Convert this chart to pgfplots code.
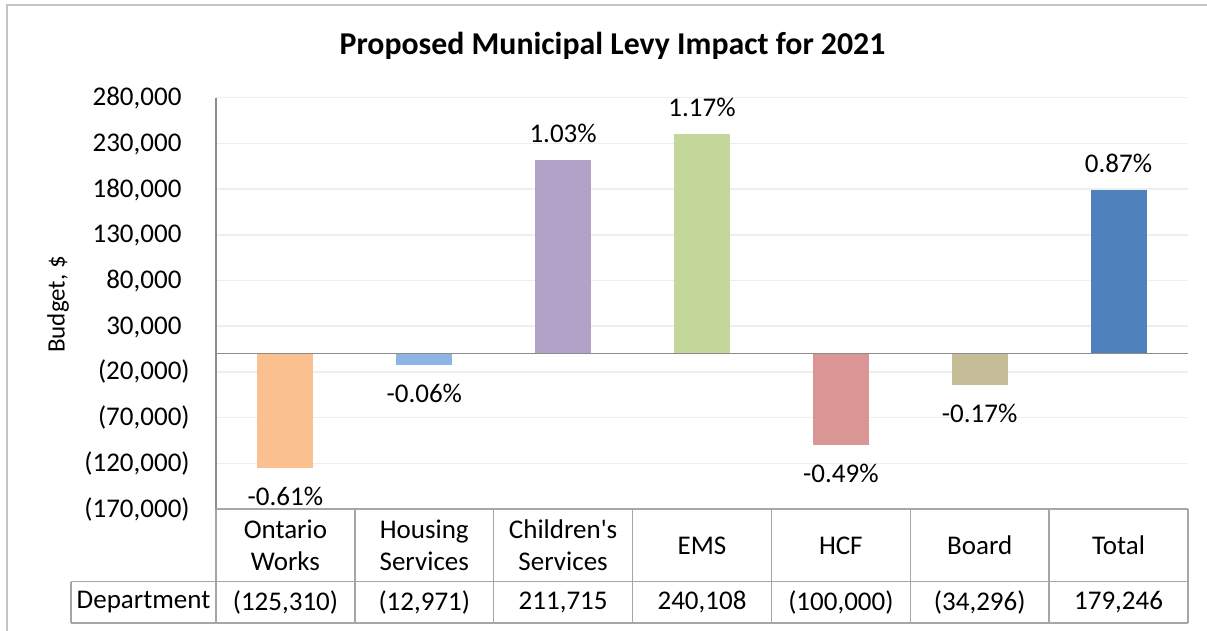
\documentclass[border=0pt]{standalone}
\usepackage{fontspec}
\setmainfont{Carlito}
\usepackage{pgfplots}
\pgfplotsset{compat=1.18}
\definecolor{cOW}{HTML}{FAC090}
\definecolor{cHS}{HTML}{8DB4E2}
\definecolor{cCS}{HTML}{B3A2C7}
\definecolor{cEMS}{HTML}{C4D79B}
\definecolor{cHCF}{HTML}{DA9694}
\definecolor{cBD}{HTML}{C4BD97}
\definecolor{cTot}{HTML}{4F81BD}
\definecolor{gridc}{HTML}{EEEEEE}
\definecolor{axc}{HTML}{8C8C8C}
\definecolor{tabc}{HTML}{A6A6A6}
\definecolor{brd}{HTML}{C4C4C4}
\newcommand{\lblfont}{\fontsize{13.5}{16}\selectfont}
\begin{document}
\begin{tikzpicture}
\begin{scope}[x=0.5pt,y=-0.5pt]
\useasboundingbox (0,0) rectangle (1207,631);
\draw[brd, line width=0.8pt] (7,5) rectangle (1240,660);
\node[font=\fontsize{15.9}{18}\selectfont\bfseries, anchor=base, inner sep=0pt] at (612.5,55) {Proposed Municipal Levy Impact for 2021};
\node[rotate=90, font=\fontsize{12.5}{15}\selectfont, inner sep=0pt] at (58,304.5) {Budget, \$};
\end{scope}
\begin{axis}[
  at={(108pt,-254.5pt)}, anchor=south west,
  scale only axis, width=486pt, height=205.65pt,
  xmin=-0.5, xmax=6.5, ymin=-170000, ymax=280000,
  scaled y ticks=false,
  ytick={-170000,-120000,-70000,-20000,30000,80000,130000,180000,230000,280000},
  yticklabels={{(170,000)},{(120,000)},{(70,000)},{(20,000)},{30,000\phantom{)}},{80,000\phantom{)}},{130,000\phantom{)}},{180,000\phantom{)}},{230,000\phantom{)}},{280,000\phantom{)}}},
  xtick={0,1,2,3,4,5,6},
  xticklabels={{Ontario\\Works},{Housing\\Services},{Children\textquotesingle s\\Services},{EMS},{HCF},{Board},{Total}},
  axis line style={draw=none},
  major tick length=0pt,
  ymajorgrids, grid style={gridc, line width=0.75pt},
  yticklabel style={anchor=east, inner sep=0pt, xshift=-13pt, font=\lblfont},
  xticklabel style={align=center, anchor=center, yshift=-18.2pt, inner sep=0pt, font=\lblfont},
  ybar, bar width=28pt,
  every axis plot/.append style={draw=none, bar shift=0pt},
  clip=false,
]
\addplot[fill=cOW, nodes near coords={-0.61\%}, nodes near coords style={anchor=base, yshift=-18.7pt, inner sep=0pt, font=\lblfont}] coordinates {(0,-125310)};
\addplot[fill=cHS, nodes near coords={-0.06\%}, nodes near coords style={anchor=base, yshift=-18.7pt, inner sep=0pt, font=\lblfont}] coordinates {(1,-12971)};
\addplot[fill=cCS, nodes near coords={1.03\%}, nodes near coords style={anchor=base, yshift=8.85pt, inner sep=0pt, font=\lblfont}] coordinates {(2,211715)};
\addplot[fill=cEMS, nodes near coords={1.17\%}, nodes near coords style={anchor=base, yshift=8.85pt, inner sep=0pt, font=\lblfont}] coordinates {(3,240108)};
\addplot[fill=cHCF, nodes near coords={-0.49\%}, nodes near coords style={anchor=base, yshift=-18.7pt, inner sep=0pt, font=\lblfont}] coordinates {(4,-100000)};
\addplot[fill=cBD, nodes near coords={-0.17\%}, nodes near coords style={anchor=base, yshift=-18.7pt, inner sep=0pt, font=\lblfont}] coordinates {(5,-34296)};
\addplot[fill=cTot, nodes near coords={0.87\%}, nodes near coords style={anchor=base, yshift=8.85pt, inner sep=0pt, font=\lblfont}] coordinates {(6,179246)};
\draw[axc, line width=0.75pt] (axis cs:-0.5,0) -- (axis cs:6.5,0);
\end{axis}
\begin{scope}[x=0.5pt,y=-0.5pt]
\draw[axc, line width=0.75pt] (216,97.7) -- (216,509);
\draw[tabc, line width=0.75pt] (216,509) -- (1188,509);
\draw[tabc, line width=0.75pt] (71,581.7) -- (1188,581.7);
\draw[tabc, line width=0.75pt] (71,623) -- (1188,623);
\draw[tabc, line width=0.75pt] (71,581.7) -- (71,623);
\foreach \i in {0,...,7} {\draw[tabc, line width=0.75pt] ({216+\i*138.857},509) -- ({216+\i*138.857},623);}
\node[font=\lblfont, inner sep=0pt] at (143.5,602.3) {Department};
\foreach \v [count=\i from 0] in {{(125,310)},{(12,971)},{211,715},{240,108},{(100,000)},{(34,296)},{179,246}} {
  \node[font=\lblfont, inner sep=0pt] at ({285.43+\i*138.857},602.3) {\v};
}
\end{scope}
\end{tikzpicture}
\end{document}
